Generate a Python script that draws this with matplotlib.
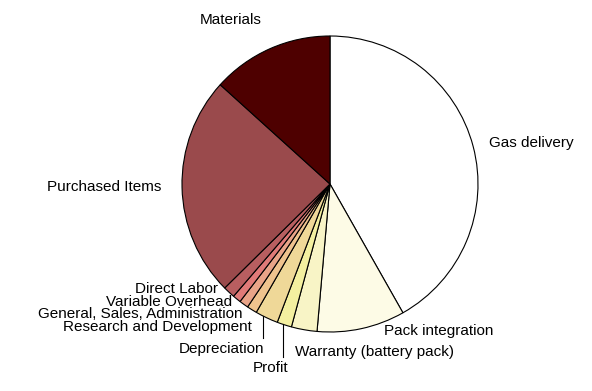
import numpy as np
import matplotlib.pyplot as plt

# cost breakdown, clockwise from 12 o'clock
labels = ['Gas delivery', 'Pack integration', 'Warranty (battery pack)', 'Profit',
          'Depreciation', 'Research and Development', 'General, Sales, Administration',
          'Variable Overhead', 'Direct Labor', 'Purchased Items', 'Materials']
shares = [41.8, 9.6, 2.8, 1.6, 2.5, 1.1, 1.0, 0.9, 1.3, 24.1, 13.3]
colors = ['#ffffff', '#fdfbe6', '#f8f4c6', '#f4f0a0', '#efd898', '#efc38e',
          '#e9a488', '#e07a78', '#b85e60', '#9a4a4c', '#4e0000']

W, H = 592, 391
cx, cy, R = 330, H - 184, 148

fig = plt.figure(figsize=(W / 100, H / 100), dpi=100)
ax = fig.add_axes([0, 0, 1, 1])
ax.set_xlim(0, W)
ax.set_ylim(0, H)
ax.set_aspect('equal')
ax.axis('off')

wedges, _ = ax.pie(shares, colors=colors, startangle=90, counterclock=False,
                   center=(cx, cy), radius=R, normalize=True,
                   wedgeprops=dict(edgecolor='black', linewidth=0.8))
ax.set_xlim(0, W)
ax.set_ylim(0, H)

plt.rcParams['font.family'] = ['Liberation Sans', 'DejaVu Sans']
fs = 11
txt = dict(fontsize=fs, va='center', color='black')
ax.text(231, H - 20, 'Materials', ha='center', **txt)
ax.text(489, H - 143, 'Gas delivery', ha='left', **txt)
ax.text(161, H - 187, 'Purchased Items', ha='right', **txt)
ax.text(384, H - 331, 'Pack integration', ha='left', **txt)
ax.text(295, H - 352, 'Warranty (battery pack)', ha='left', **txt)
ax.text(218, H - 289, 'Direct Labor', ha='right', **txt)
ax.text(232, H - 302, 'Variable Overhead', ha='right', **txt)
ax.text(243, H - 314, 'General, Sales, Administration', ha='right', **txt)
ax.text(252, H - 327, 'Research and Development', ha='right', **txt)
ax.text(264, H - 349, 'Depreciation', ha='right', **txt)
ax.text(271, H - 368, 'Profit', ha='center', **txt)

# vertical leader lines for the two small slices
for lx, y_end in [(263, H - 338), (283, H - 357)]:
    y_arc = cy - np.sqrt(R ** 2 - (lx - cx) ** 2)
    ax.plot([lx, lx], [y_arc, y_end], color='black', linewidth=0.8)

fig.savefig('out.png', dpi=100)
